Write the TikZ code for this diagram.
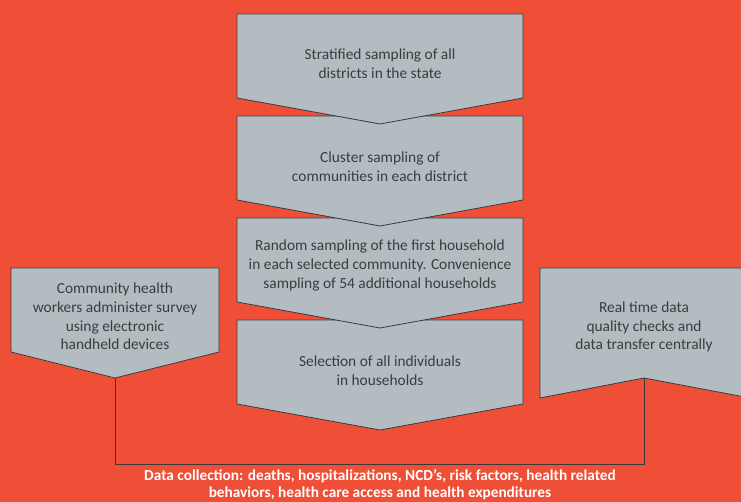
\documentclass[tikz,border=0pt]{standalone}
\usepackage{fontspec}
\setmainfont{Carlito}
\definecolor{bgred}{HTML}{EF4F37}
\definecolor{boxgrey}{HTML}{B2BCC1}
\definecolor{edgegrey}{HTML}{3A3A3A}
\definecolor{txtgrey}{HTML}{3C3C3C}
\begin{document}
\begin{tikzpicture}[x=1pt,y=-1pt,
  chevbox/.style={fill=boxgrey,draw=edgegrey,line width=0.8pt,line join=miter},
  boxtext/.style={text=txtgrey,align=center,font=\fontsize{15.4}{18.8}\selectfont,inner sep=0pt},
  link/.style={draw=edgegrey,line width=0.8pt},
  notetext/.style={text=white,align=center,font=\bfseries\fontsize{15.3}{16.3}\selectfont,inner sep=0pt}]
\useasboundingbox (0,0) rectangle (741,502);
\fill[bgred] (0,0) rectangle (741,502);

% central column, lower steps first so each upper arrow tip overlaps the next box
\draw[chevbox] (237,320) -- (523,320) -- (523,404) -- (380,430) -- (237,404) -- cycle;
\draw[chevbox] (237,218) -- (523,218) -- (523,302) -- (380,328) -- (237,302) -- cycle;
\draw[chevbox] (237,116) -- (523,116) -- (523,200) -- (380,226) -- (237,200) -- cycle;
\draw[chevbox] (237,14) -- (523,14) -- (523,98) -- (380,124) -- (237,98) -- cycle;

\node[boxtext] (s1) at (380,64) {Stratified sampling of all\\districts in the state};
\node[boxtext] (s2) at (380,166.5) {Cluster sampling of\\communities in each district};
\node[boxtext] (s3) at (380,265.5) {Random sampling of the first household\\in each selected community. Convenience\\sampling of 54 additional households};
\node[boxtext] (s4) at (380,370.5) {Selection of all individuals\\in households};

% side boxes
\draw[chevbox] (11,268) -- (219,268) -- (219,352) -- (115,378) -- (11,352) -- cycle;
\draw[chevbox] (540,268) -- (750,268) -- (750,398) -- (644,378) -- (540,398) -- cycle;
\node[boxtext] (left) at (115,316.5) {Community health\\workers administer survey\\using electronic\\handheld devices};
\node[boxtext] (right) at (644,327) {Real time data\\quality checks and\\data transfer centrally};

\coordinate (ltip) at (115,378);
\coordinate (rtip) at (644,378);
\coordinate (lcorner) at (115,464);
\coordinate (rcorner) at (644,464);
\draw[link] (ltip) -- (lcorner) -- (rcorner) -- (rtip);

\node[notetext] (note) at (380,484.5) {Data collection: deaths, hospitalizations, NCD’s, risk factors, health related\\behaviors, health care access and health expenditures};
\end{tikzpicture}
\end{document}
